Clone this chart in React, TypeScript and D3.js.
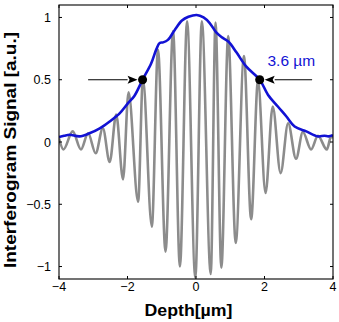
import React from "react";
import * as d3 from "d3";

// ---- data ----
const depthTicks = [-4, -2, 0, 2, 4];
const signalTicks = [-1, -0.5, 0, 0.5, 1];

// Interferogram extrema (depth µm, signal a.u.)
const grayDepth = [
  -4.0, -3.87, -3.6, -3.36, -3.15, -2.93, -2.72, -2.52, -2.33, -2.13, -1.97,
  -1.69, -1.55, -1.29, -1.11, -0.89, -0.67, -0.47, -0.26, -0.02, 0.17, 0.43,
  0.57, 0.74, 0.94, 1.16, 1.4, 1.61, 1.81, 2.03, 2.24, 2.47, 2.69, 2.92, 3.12,
  3.36, 3.56, 3.82, 3.95, 4.0,
];
const graySignal = [
  0.03, -0.06, 0.085, -0.06, 0.07, -0.09, 0.11, -0.16, 0.22, -0.3, 0.4, -0.48,
  0.51, -0.68, 0.74, -0.88, 0.89, -1.0, 0.97, -1.09, 0.97, -1.06, 0.96, -1.01,
  0.85, -0.81, 0.69, -0.62, 0.49, -0.41, 0.285, -0.25, 0.15, -0.135, 0.08,
  -0.06, 0.05, -0.06, 0.05, 0.03,
];

// Envelope
const envDepth = [
  -4.0, -3.85, -3.69, -3.4, -3.11, -2.81, -2.52, -2.23, -1.99, -1.8, -1.56,
  -1.31, -1.15, -1.06, -0.96, -0.82, -0.62, -0.41, -0.22, 0.02, 0.22, 0.4,
  0.59, 0.76, 0.95, 1.18, 1.47, 1.86, 2.1, 2.39, 2.64, 2.88, 3.22, 3.56, 3.75,
  3.87, 4.0,
];
const envSignal = [
  0.04, 0.05, 0.058, 0.045, 0.07, 0.11, 0.165, 0.23, 0.31, 0.37, 0.5, 0.63,
  0.75, 0.795, 0.8, 0.82, 0.9, 0.975, 1.005, 1.02, 1.0, 0.955, 0.88, 0.84,
  0.805, 0.72, 0.605, 0.5, 0.38, 0.285, 0.205, 0.125, 0.085, 0.045, 0.05,
  0.045, 0.055,
];

// FWHM markers and arrows
const halfDepth = [-1.56, 1.86];
const halfSignal = 0.5;
const arrowTailDepth = [-3.15, 3.39];
const fwhmLabel = "3.6 µm";

// ---- layout ----
const W = 339;
const H = 322;
const L = 59;
const R = 333;
const T = 5;
const B = 279;

const FONT = "'Liberation Sans', Arial, Helvetica, sans-serif";
const BLUE = "#1212d4";
const GRAY = "#8c8c8c";

export default function App() {
  const x = d3.scaleLinear().domain([-4, 4]).range([L, R]);
  const y = d3.scaleLinear().domain([-1.1, 1.1]).range([B, T]);

  const grayPts = grayDepth.map((d, i) => [d, graySignal[i]] as [number, number]);
  const envPts = envDepth.map((d, i) => [d, envSignal[i]] as [number, number]);

  const grayLine = d3
    .line<[number, number]>()
    .x((d) => x(d[0]))
    .y((d) => y(d[1]))
    .curve(d3.curveMonotoneX);
  const envLine = d3
    .line<[number, number]>()
    .x((d) => x(d[0]))
    .y((d) => y(d[1]))
    .curve(d3.curveCatmullRom.alpha(0.5));

  const tick = 3;
  const r = 4.5;
  const headLen = 10;
  const headHalf = 4;

  return (
    <svg
      width={W}
      height={H}
      style={{ position: "absolute", left: 0, top: 0, background: "#fff" }}
      fontFamily={FONT}
    >
      <rect x={0} y={0} width={W} height={H} fill="#fff" />
      <defs>
        <clipPath id="plotclip">
          <rect x={L} y={T} width={R - L} height={B - T} />
        </clipPath>
      </defs>

      <g clipPath="url(#plotclip)">
        <path d={grayLine(grayPts) || ""} fill="none" stroke={GRAY} strokeWidth={2.6} strokeLinejoin="round" />
        <path d={envLine(envPts) || ""} fill="none" stroke={BLUE} strokeWidth={2.6} strokeLinejoin="round" />
      </g>

      {/* arrows */}
      {halfDepth.map((hd, i) => {
        const cx = x(hd);
        const cy = y(halfSignal);
        const dir = arrowTailDepth[i] < hd ? 1 : -1; // +1 points right
        const tipX = cx - dir * (r + 0.5);
        const baseX = tipX - dir * headLen;
        const tailX = x(arrowTailDepth[i]);
        return (
          <g key={"arr" + i}>
            <line x1={tailX} y1={cy} x2={baseX} y2={cy} stroke="#000" strokeWidth={1.1} />
            <path
              d={`M${tipX},${cy} L${baseX},${cy - headHalf} L${baseX + dir * 2},${cy} L${baseX},${cy + headHalf} Z`}
              fill="#000"
            />
          </g>
        );
      })}

      {halfDepth.map((hd, i) => (
        <circle key={"m" + i} cx={x(hd)} cy={y(halfSignal)} r={r} fill="#000" />
      ))}

      <text x={267.5} y={66} fontSize={15.5} fill={BLUE}>
        {fwhmLabel}
      </text>

      {/* axes box */}
      <rect x={L} y={T} width={R - L} height={B - T} fill="none" stroke="#000" strokeWidth={1.1} />

      {depthTicks.map((t) => (
        <g key={"xt" + t}>
          <line x1={x(t)} x2={x(t)} y1={B} y2={B - tick} stroke="#000" strokeWidth={1} />
          <line x1={x(t)} x2={x(t)} y1={T} y2={T + tick} stroke="#000" strokeWidth={1} />
          <text x={x(t)} y={290.5} fontSize={12.5} textAnchor="middle" fill="#000">
            {t < 0 ? "\u2212" + Math.abs(t) : String(t)}
          </text>
        </g>
      ))}

      {signalTicks.map((t) => (
        <g key={"yt" + t}>
          <line x1={L} x2={L + tick} y1={y(t)} y2={y(t)} stroke="#000" strokeWidth={1} />
          <line x1={R} x2={R - tick} y1={y(t)} y2={y(t)} stroke="#000" strokeWidth={1} />
          <text x={51} y={y(t)} dy="0.36em" fontSize={12.5} textAnchor="end" fill="#000">
            {t < 0 ? "\u2212" + Math.abs(t) : String(t)}
          </text>
        </g>
      ))}

      <text
        x={188.5}
        y={316}
        fontSize={16.5}
        fontWeight="bold"
        textAnchor="middle"
        textLength={88}
        lengthAdjust="spacingAndGlyphs"
        fill="#000"
      >
        Depth[µm]
      </text>
      <text
        transform={`translate(15.5,150) rotate(-90)`}
        fontSize={16.5}
        fontWeight="bold"
        textAnchor="middle"
        textLength={236}
        lengthAdjust="spacingAndGlyphs"
        fill="#000"
      >
        Interferogram Signal [a.u.]
      </text>
    </svg>
  );
}
